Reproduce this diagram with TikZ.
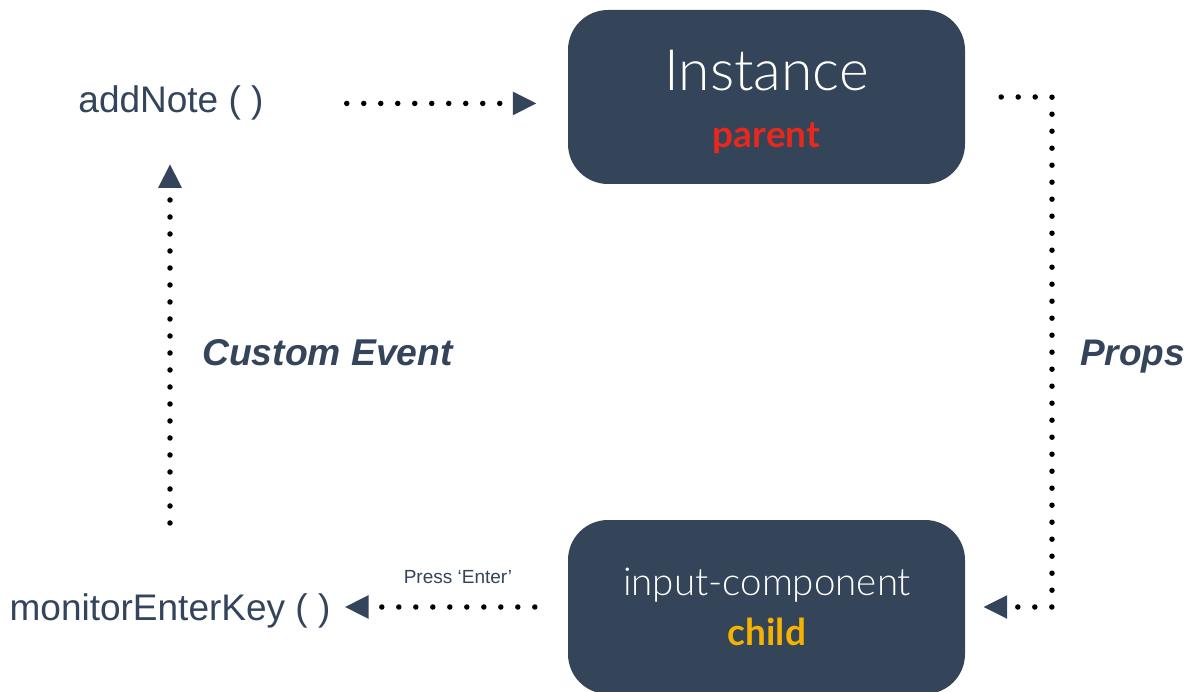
\documentclass[tikz,border=0pt]{standalone}
\usepackage{fontspec}
\setmainfont{Liberation Sans}
\newfontfamily\latofont{Lato}
\newfontfamily\latolight{Lato Light}
\usetikzlibrary{arrows.meta,calc}
\definecolor{slate}{HTML}{34445A}
\definecolor{boxc}{HTML}{344459}
\definecolor{parentred}{HTML}{E8281B}
\definecolor{childyellow}{HTML}{F5B300}
\begin{document}
\begin{tikzpicture}[x=1pt,y=-1pt,
  dotline/.style={line width=5.5pt, line cap=round, dash pattern=on 0pt off 17pt, black},
  headtip/.style={-{Triangle[length=24pt,width=22pt,color=slate]}},
  comp/.style={fill=boxc, rounded corners=40pt, minimum width=397pt, minimum height=174pt, inner sep=0pt},
  lbl/.style={text=slate, font=\fontsize{37}{41}\selectfont, inner sep=0pt, anchor=base},
  bigtxt/.style={text=white, font=\latolight\fontsize{57}{62}\selectfont, inner sep=0pt, anchor=base},
  midtxt/.style={text=white, font=\latolight\fontsize{38.5}{43}\selectfont, inner sep=0pt, anchor=base},
  tagtxt/.style={font=\latofont\bfseries\fontsize{37}{42}\selectfont, inner sep=0pt, anchor=base},
]
\useasboundingbox (0,0) rectangle (1188,692);
% boxes
\node[comp] (inst) at (766.5,97) {};
\node[comp] (child) at (766.5,607) {};
\node[bigtxt] (insttxt) at (766.5,91) {Instance};
\node[tagtxt, text=parentred] (parenttxt) at (766.5,148) {parent};
\node[midtxt] (childtxt) at (767,595) {input-component};
\node[tagtxt, text=childyellow] (childtag) at (767,645) {child};
% labels
\node[lbl] (addnote) at (171,113) {addNote ( )};
\node[lbl] (monitor) at (170,620) {monitorEnterKey ( )};
\node[lbl, font=\fontsize{19}{21}\selectfont] (press) at (458,583) {Press ‘Enter’};
\node[lbl, anchor=base west, font=\bfseries\itshape\fontsize{37.3}{41}\selectfont] (custom) at (202,365) {Custom Event};
\node[lbl, anchor=base west, font=\bfseries\itshape\fontsize{37}{41}\selectfont] (props) at (1080,365) {Props};
\coordinate (pa) at (1052,97);
\coordinate (pb) at (1052,607);
% connectors
\draw[dotline, headtip, shorten <=83pt, shorten >=31pt] (addnote.east) -- (addnote.east -| inst.west);
\draw[dotline, headtip, shorten <=70pt, shorten >=43pt] (monitor.north) -- (monitor.north |- addnote.south);
\draw[dotline, headtip, shorten <=33pt, shorten >=14pt] (child.west) -- (child.west -| monitor.east);
\draw[dotline, headtip, shorten <=36pt, shorten >=18pt] (inst.east) -- (pa) -- (pb) -- (child.east);
\end{tikzpicture}
\end{document}
